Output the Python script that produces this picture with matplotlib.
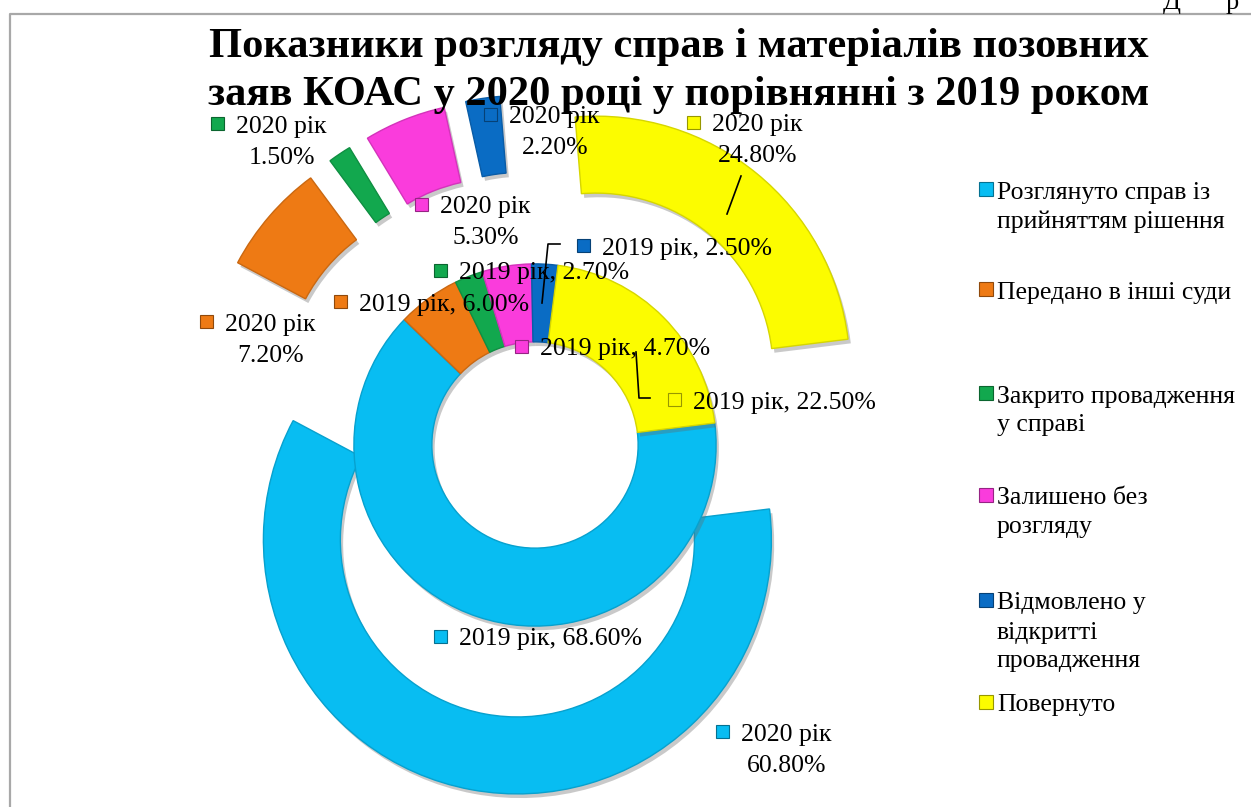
import matplotlib
matplotlib.use('Agg')
import matplotlib.pyplot as plt
import matplotlib.patheffects as pe
from matplotlib.patches import Rectangle
from matplotlib.colors import to_rgb

# ---------------- data ----------------
categories = ['Розглянуто справ із\nприйняттям рішення',
              'Передано в інші суди',
              'Закрито провадження\nу справі',
              'Залишено без\nрозгляду',
              'Відмовлено у\nвідкритті\nпровадження',
              'Повернуто']
values_2019 = [68.6, 6.0, 2.7, 4.7, 2.5, 22.5]
values_2020 = [60.8, 7.2, 1.5, 5.3, 2.2, 24.8]
series_names = ['2019 рік', '2020 рік']
title_lines = ['Показники розгляду справ і матеріалів позовних',
               'заяв КОАС у 2020 році у порівнянні з 2019 роком']
colors = ['#08BDF2', '#EE7A14', '#12A84E', '#FA3CDC', '#0A6CC4', '#FCFC00']

# ---------------- layout (pixels) ----------------
W, H = 1251, 807
CX, CY = 535, 445          # centre of the doughnut
UNIT = 254                 # pixels per radius unit
RING_W_OUT = 0.303
INNER_R = 0.713
RING_W_IN = 0.307
EXPLODE = 0.38
START = 7

SERIF = ['Liberation Serif', 'DejaVu Serif']
LAB_FS = 18.5
LINE_H = 29

# label anchors: marker centre (x, y) in pixels
lab2019 = [(440, 636), (340, 301), (440, 270), (521, 346), (583, 245), (674, 399)]
lab2020 = [(722, 731), (206, 321), (217, 123), (421, 204), (490, 114), (693, 122)]
leaders = [[(542, 303), (548, 244), (560, 244)],
           [(636, 352), (639, 398), (650, 398)],
           [(741, 176), (727, 214)]]
legend_x = 986
legend_y = [189, 289, 393, 495, 600, 702]

def darker(c, f=0.75):
    r, g, b = to_rgb(c)
    return (r * f, g * f, b * f)

fig = plt.figure(figsize=(W / 100, H / 100), dpi=100)
fig.patch.set_facecolor('white')

ax = fig.add_axes([0, 0, 1, 1])
shadow = [pe.SimplePatchShadow(offset=(2, -3), shadow_rgbFace=(0.4, 0.4, 0.4), alpha=0.35), pe.Normal()]

w_out, _ = ax.pie(values_2020, radius=1.0, colors=colors, startangle=START,
                  counterclock=False, explode=[EXPLODE] * len(values_2020),
                  wedgeprops=dict(width=RING_W_OUT, linewidth=1.0))
w_in, _ = ax.pie(values_2019, radius=INNER_R, colors=colors, startangle=START,
                 counterclock=False,
                 wedgeprops=dict(width=RING_W_IN, linewidth=1.0))
for wl in (w_out, w_in):
    for w, c in zip(wl, colors):
        w.set_edgecolor(darker(c, 0.85))
        w.set_path_effects(shadow)
for w in w_in:
    w.set_zorder(3)

ax.set_xlim(-CX / UNIT, (W - CX) / UNIT)
ax.set_ylim(-(H - CY) / UNIT, CY / UNIT)
ax.set_aspect('equal', adjustable='box')
ax.axis('off')

# overlay in pixel coordinates for texts
ov = fig.add_axes([0, 0, 1, 1], facecolor='none')
ov.set_xlim(0, W)
ov.set_ylim(H, 0)
ov.axis('off')

# page text peeking above the chart and chart border
ov.text(1163, 9, 'Д', fontsize=19, family=SERIF, va='baseline', ha='left')
ov.text(1226, 9, 'р', fontsize=19, family=SERIF, va='baseline', ha='left')
ov.plot([10, 10, W + 5], [H + 5, 14, 14], color='#A8A8A8', lw=1.6, solid_capstyle='butt')

# title
for i, line in enumerate(title_lines):
    ov.text(679, 57 + 48 * i, line, fontsize=30.6, fontweight='bold', family=SERIF,
            ha='center', va='baseline', zorder=10)

def marker(x, y, c, s=13):
    ov.add_patch(Rectangle((x - s / 2, y - s / 2), s, s, facecolor=c,
                           edgecolor=darker(c, 0.6), lw=0.8, zorder=11))

# 2019 labels
for (x, y), v, c in zip(lab2019, values_2019, colors):
    marker(x, y, c)
    ov.text(x + 19, y + 1, f'{series_names[0]}, {v:.2f}%', fontsize=LAB_FS, family=SERIF,
            ha='left', va='center_baseline', zorder=12)

# 2020 labels
for (x, y), v, c in zip(lab2020, values_2020, colors):
    marker(x, y, c)
    ov.text(x + 19, y + 1, series_names[1], fontsize=LAB_FS, family=SERIF,
            ha='left', va='center_baseline', zorder=12)
    ov.text(x + 65, y + 32, f'{v:.2f}%', fontsize=LAB_FS, family=SERIF,
            ha='center', va='center_baseline', zorder=12)

for pts in leaders:
    xs, ys = zip(*pts)
    ov.plot(xs, ys, color='black', lw=1.2, zorder=9)

# legend
for y, name, c in zip(legend_y, categories, colors):
    marker(legend_x, y, c, s=14)
    for j, part in enumerate(name.split('\n')):
        ov.text(legend_x + 11, y + 1 + j * LINE_H, part, fontsize=LAB_FS, family=SERIF,
                ha='left', va='center_baseline', zorder=12)

fig.savefig('out.png', dpi=100, facecolor='white')
